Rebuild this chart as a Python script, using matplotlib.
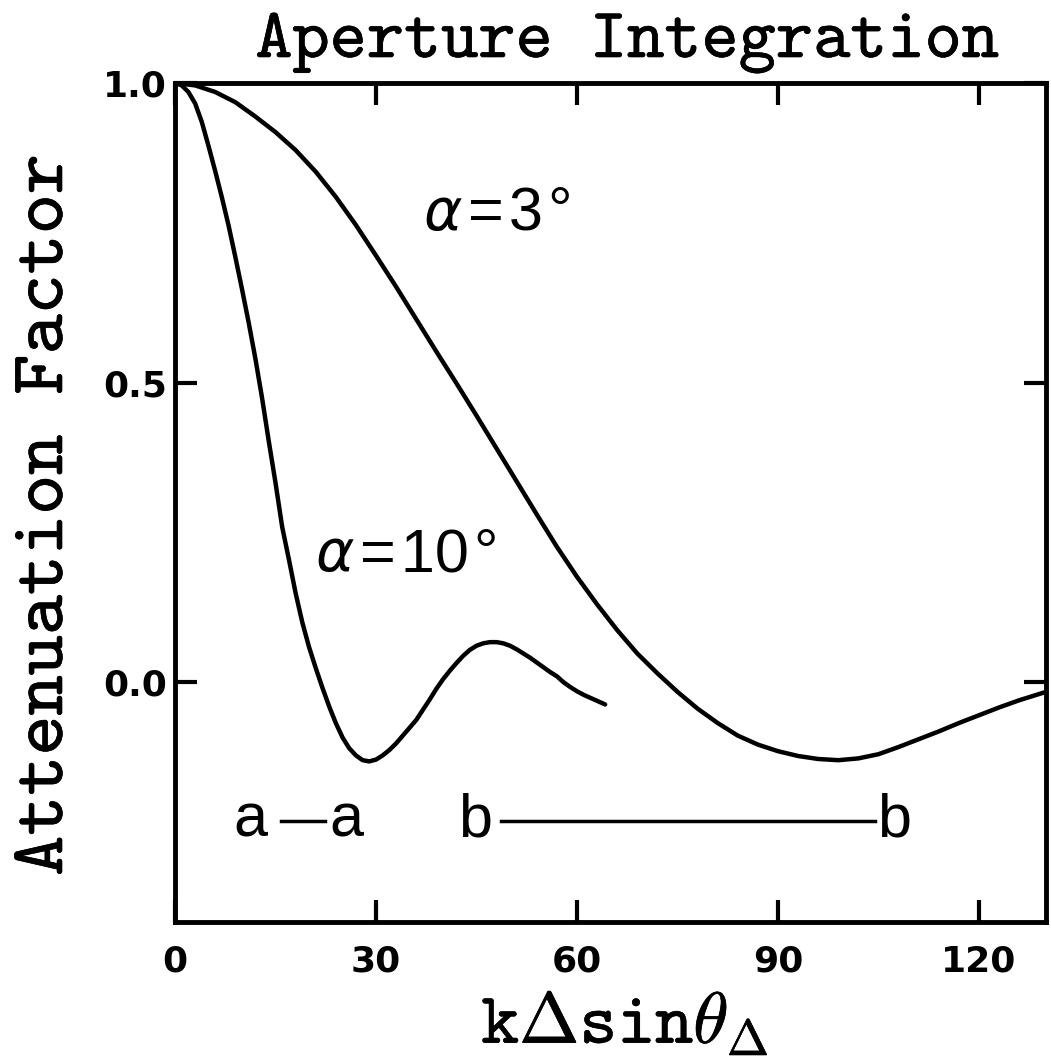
import matplotlib
matplotlib.use("Agg")
import matplotlib.pyplot as plt
import matplotlib.patheffects as pe

plt.rcParams['mathtext.fontset'] = 'cm'

# --- values ---
# alpha = 3 deg curve
x_a3 = [0, 3, 6, 9, 12, 15, 18, 21, 24, 27, 30, 33, 36, 39, 42, 45, 48, 51,
        54, 57, 60, 63, 66, 69, 72, 75, 78, 81, 84, 87, 90, 93, 96, 99, 102,
        105, 108, 111, 114, 117, 120, 123, 126, 130]
y_a3 = [1.000, 0.996, 0.985, 0.968, 0.944, 0.918, 0.888, 0.852, 0.810, 0.763,
        0.712, 0.660, 0.606, 0.552, 0.499, 0.445, 0.390, 0.335, 0.280, 0.226,
        0.176, 0.130, 0.087, 0.048, 0.015, -0.016, -0.044, -0.068, -0.089,
        -0.104, -0.115, -0.123, -0.128, -0.130, -0.127, -0.120, -0.108,
        -0.095, -0.082, -0.068, -0.055, -0.042, -0.030, -0.016]

# alpha = 10 deg curve
x_a10 = [0, 1, 2, 3, 4, 5, 6, 7, 8, 9, 10, 11, 12, 13, 14, 15, 16, 17, 18,
         19, 20, 21, 22, 23, 24, 25, 26, 27, 28, 29, 30, 31, 32, 33, 34, 35,
         36, 37, 38, 39, 40, 41, 42, 43, 44, 45, 46, 47, 48, 49, 50, 51, 52,
         53, 54, 55, 56, 57, 58, 59, 60, 61, 62, 63, 64.2]
y_a10 = [1.000, 0.996, 0.985, 0.966, 0.935, 0.895, 0.853, 0.809, 0.762,
         0.710, 0.656, 0.600, 0.540, 0.474, 0.402, 0.333, 0.259, 0.205,
         0.149, 0.100, 0.059, 0.024, -0.009, -0.040, -0.068, -0.092, -0.110,
         -0.122, -0.130, -0.132, -0.129, -0.122, -0.113, -0.102, -0.089,
         -0.076, -0.063, -0.046, -0.029, -0.011, 0.005, 0.019, 0.032, 0.044,
         0.054, 0.061, 0.065, 0.067, 0.067, 0.065, 0.061, 0.055, 0.048,
         0.041, 0.033, 0.025, 0.017, 0.010, 0.000, -0.008, -0.015, -0.021,
         -0.026, -0.031, -0.037]

# interval bars a--a and b--b (x extents) and their height
bar_a = [15.8, 22.4]
bar_b = [48.7, 104.5]
bar_y = -0.232

x_ticks = [0, 30, 60, 90, 120]
y_ticks = [0.0, 0.5, 1.0]
y_ticklabels = ['0.0', '0.5', '1.0']

# --- figure ---
W, H = 1051, 1064
fig = plt.figure(figsize=(W / 100, H / 100), dpi=100)
ax = fig.add_axes([175 / W, 1 - 922 / H, (1046 - 175) / W, (922 - 83) / H])

line_kw = dict(color='black', lw=3.2, solid_capstyle='round', solid_joinstyle='round')
ax.plot(x_a3, y_a3, **line_kw)
ax.plot(x_a10, y_a10, **line_kw)
ax.plot(bar_a, [bar_y, bar_y], color='black', lw=2.5)
ax.plot(bar_b, [bar_y, bar_y], color='black', lw=2.5)

ax.set_xlim(0, 130)
ax.set_ylim(-0.4, 1.0)
ax.set_xticks(x_ticks)
ax.set_yticks(y_ticks)
ax.set_yticklabels(y_ticklabels)

ax.tick_params(direction='in', length=16, width=3, top=True, right=True)
ax.tick_params(axis='x', pad=16)
ax.tick_params(axis='y', pad=6)
for lbl in ax.get_xticklabels() + ax.get_yticklabels():
    lbl.set_fontfamily('DejaVu Sans')
    lbl.set_fontweight('bold')
    lbl.set_fontsize(26)
for s in ax.spines.values():
    s.set_linewidth(3.5)

# annotations: italic alpha, then the upright "=value°" (hair spaces widen it)
greek_kw = dict(fontsize=42, family='DejaVu Sans', style='italic', ha='left', va='baseline')
ann_kw = dict(fontsize=44, family=['Liberation Sans', 'DejaVu Sans'], ha='left', va='baseline')
ax.text(37.0, 0.755, 'α', **greek_kw)
ax.text(43.7, 0.755, '=\u200a3\u200a°', **ann_kw)
ax.text(20.9, 0.185, 'α', **greek_kw)
ax.text(27.6, 0.185, '=\u200a10\u200a°', **ann_kw)
ax.text(8.7, -0.257, 'a', **ann_kw)
ax.text(23.0, -0.257, 'a', **ann_kw)
ax.text(42.2, -0.257, 'b', **ann_kw)
ax.text(104.8, -0.257, 'b', **ann_kw)

# typewriter-style title and axis labels, slightly emboldened
thick = [pe.withStroke(linewidth=0.45, foreground='black')]
fig.text(627 / W, 1 - 57 / H, 'Aperture Integration', ha='center', va='baseline',
         fontsize=51, family='cmtt10', path_effects=thick)
fig.text(47 / W, 1 - 515 / H, 'Attenuation Factor', ha='center', va='center',
         rotation=90, fontsize=55, family='cmtt10', path_effects=thick)
fig.text(625 / W, 1 - 1043 / H, r'k$\Delta$sin$\theta_{\mathbf{\Delta}}$',
         ha='center', va='baseline', fontsize=52, family='cmtt10', path_effects=thick)

fig.savefig('out.png', dpi=100)
